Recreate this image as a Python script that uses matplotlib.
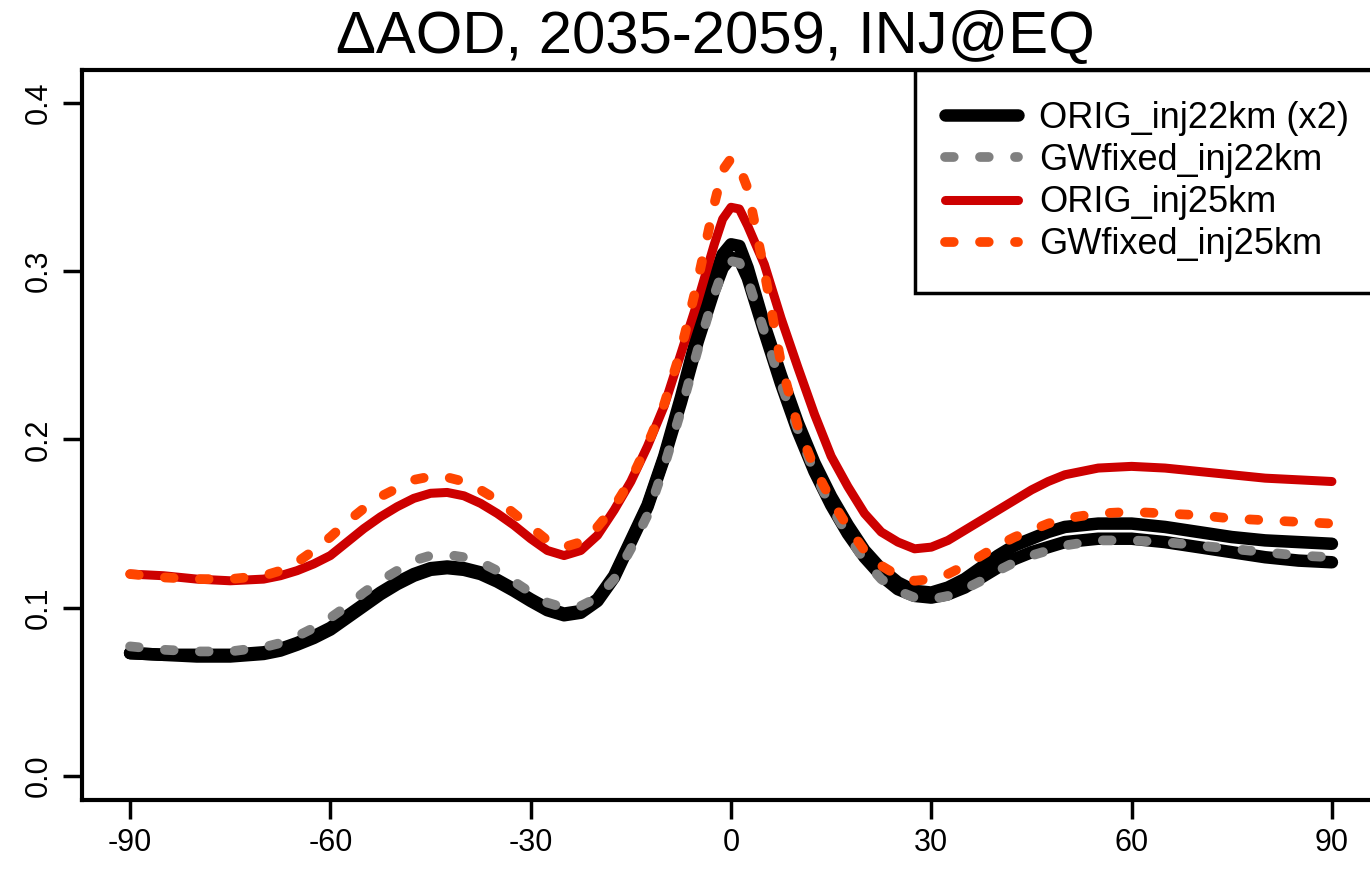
import matplotlib
matplotlib.use("Agg")
import matplotlib.pyplot as plt

plt.rcParams['font.family'] = ['Liberation Sans', 'DejaVu Sans']
plt.rcParams['axes.unicode_minus'] = False

# latitude grid (deg)
lat = [-90, -85, -80, -75, -70, -67.5, -65, -62.5, -60, -57.5, -55, -52.5, -50,
       -47.5, -45, -42.5, -40, -37.5, -35, -32.5, -30, -27.5, -25, -22.5, -20,
       -17.5, -15, -12.5, -10, -7.5, -5, -2.5, -1.25, 0, 1.25, 2.5, 5, 7.5, 10,
       12.5, 15, 17.5, 20, 22.5, 25, 27.5, 30, 32.5, 35, 37.5, 40, 42.5, 45,
       47.5, 50, 55, 60, 65, 70, 75, 80, 85, 90]

# delta AOD
orig22_a = [0.073, 0.072, 0.072, 0.072, 0.0735, 0.0755, 0.079, 0.083, 0.088, 0.095,
            0.102, 0.109, 0.115, 0.120, 0.1235, 0.1245, 0.1235, 0.121, 0.1165, 0.111,
            0.105, 0.0995, 0.0965, 0.098, 0.105, 0.119, 0.140, 0.161, 0.190, 0.225,
            0.263, 0.296, 0.310, 0.316, 0.315, 0.302, 0.268, 0.238, 0.210, 0.186,
            0.166, 0.149, 0.134, 0.123, 0.115, 0.110, 0.109, 0.112, 0.117, 0.124,
            0.131, 0.137, 0.141, 0.145, 0.148, 0.150, 0.150, 0.148, 0.145, 0.142,
            0.140, 0.139, 0.138]
orig22_b = [0.073, 0.072, 0.071, 0.071, 0.0725, 0.0745, 0.078, 0.082, 0.087, 0.094,
            0.101, 0.108, 0.114, 0.119, 0.1225, 0.1235, 0.1225, 0.120, 0.1155, 0.110,
            0.104, 0.0985, 0.0955, 0.097, 0.104, 0.118, 0.139, 0.160, 0.189, 0.222,
            0.258, 0.289, 0.302, 0.308, 0.307, 0.296, 0.264, 0.233, 0.205, 0.181,
            0.161, 0.144, 0.130, 0.119, 0.111, 0.107, 0.106, 0.108, 0.112, 0.118,
            0.124, 0.129, 0.133, 0.136, 0.139, 0.141, 0.141, 0.139, 0.136, 0.133,
            0.130, 0.128, 0.127]
gwfix22 = [0.077, 0.075, 0.074, 0.074, 0.0765, 0.079, 0.083, 0.088, 0.094, 0.101,
           0.109, 0.116, 0.122, 0.128, 0.131, 0.1315, 0.130, 0.127, 0.122, 0.1155,
           0.109, 0.103, 0.100, 0.101, 0.106, 0.117, 0.135, 0.155, 0.184, 0.217,
           0.253, 0.286, 0.300, 0.306, 0.305, 0.295, 0.264, 0.233, 0.206, 0.180,
           0.160, 0.143, 0.128, 0.117, 0.110, 0.106, 0.105, 0.107, 0.111, 0.116,
           0.122, 0.127, 0.131, 0.134, 0.137, 0.140, 0.140, 0.139, 0.137, 0.135,
           0.133, 0.131, 0.130]
orig25 = [0.120, 0.119, 0.117, 0.116, 0.117, 0.119, 0.122, 0.126, 0.131, 0.139,
          0.147, 0.154, 0.160, 0.165, 0.168, 0.1685, 0.1665, 0.162, 0.156, 0.149,
          0.141, 0.134, 0.131, 0.134, 0.143, 0.158, 0.175, 0.196, 0.220, 0.251,
          0.282, 0.316, 0.331, 0.338, 0.337, 0.327, 0.304, 0.272, 0.243, 0.215,
          0.190, 0.172, 0.156, 0.145, 0.139, 0.135, 0.136, 0.140, 0.146, 0.152,
          0.158, 0.164, 0.170, 0.175, 0.179, 0.183, 0.184, 0.183, 0.181, 0.179,
          0.177, 0.176, 0.175]
gwfix25 = [0.120, 0.118, 0.117, 0.117, 0.119, 0.122, 0.127, 0.134, 0.142, 0.151,
           0.159, 0.166, 0.171, 0.176, 0.178, 0.1775, 0.175, 0.170, 0.164, 0.156,
           0.148, 0.140, 0.136, 0.139, 0.148, 0.160, 0.176, 0.197, 0.221, 0.253,
           0.294, 0.340, 0.360, 0.367, 0.362, 0.349, 0.300, 0.245, 0.208, 0.183,
           0.164, 0.148, 0.134, 0.125, 0.119, 0.116, 0.117, 0.120, 0.125, 0.131,
           0.137, 0.142, 0.146, 0.150, 0.153, 0.156, 0.157, 0.156, 0.155, 0.153,
           0.152, 0.151, 0.150]

W, H = 1370, 874
fig = plt.figure(figsize=(W / 100, H / 100), dpi=100)
# plot region runs a little past the right edge of the picture (cropped original)
ax = fig.add_axes([82 / W, (H - 800) / H, (1380 - 82) / W, 730 / H])

ax.plot(lat, orig22_a, color='black', lw=9, solid_capstyle='round',
        label='ORIG_inj22km (x2)')
ax.plot(lat, orig22_b, color='black', lw=9, solid_capstyle='round')
ax.plot(lat, gwfix22, color='#808080', lw=7, dashes=(0.9, 2.7),
        dash_capstyle='round', label='GWfixed_inj22km')
ax.plot(lat, orig25, color='#CD0000', lw=6.5, solid_capstyle='round',
        label='ORIG_inj25km')
ax.plot(lat, gwfix25, color='#FF4500', lw=7, dashes=(0.9, 2.7),
        dash_capstyle='round', label='GWfixed_inj25km')

ax.set_xlim(-97.2, 97.2)
ax.set_ylim(-0.0143, 0.4196)
ax.set_xticks([-90, -60, -30, 0, 30, 60, 90])
ax.set_yticks([0.0, 0.1, 0.2, 0.3, 0.4])
ax.set_yticklabels(['0.0', '0.1', '0.2', '0.3', '0.4'], rotation=90, va='center')
ax.tick_params(labelsize=22, length=14, width=2.5, pad=6)
for s in ax.spines.values():
    s.set_linewidth(3)

leg = ax.legend(loc='upper right', bbox_to_anchor=(1, 1), borderaxespad=0,
                fontsize=26, fancybox=False, framealpha=1, edgecolor='black',
                handlelength=2.0, handletextpad=0.6, labelspacing=0.2,
                borderpad=0.85)
leg.get_frame().set_linewidth(2.5)

fig.text(715 / W, 1 - 38 / H, '\u0394AOD, 2035-2059, INJ@EQ', fontsize=43,
         ha='center', va='center')

fig.savefig('out.png', dpi=100)
